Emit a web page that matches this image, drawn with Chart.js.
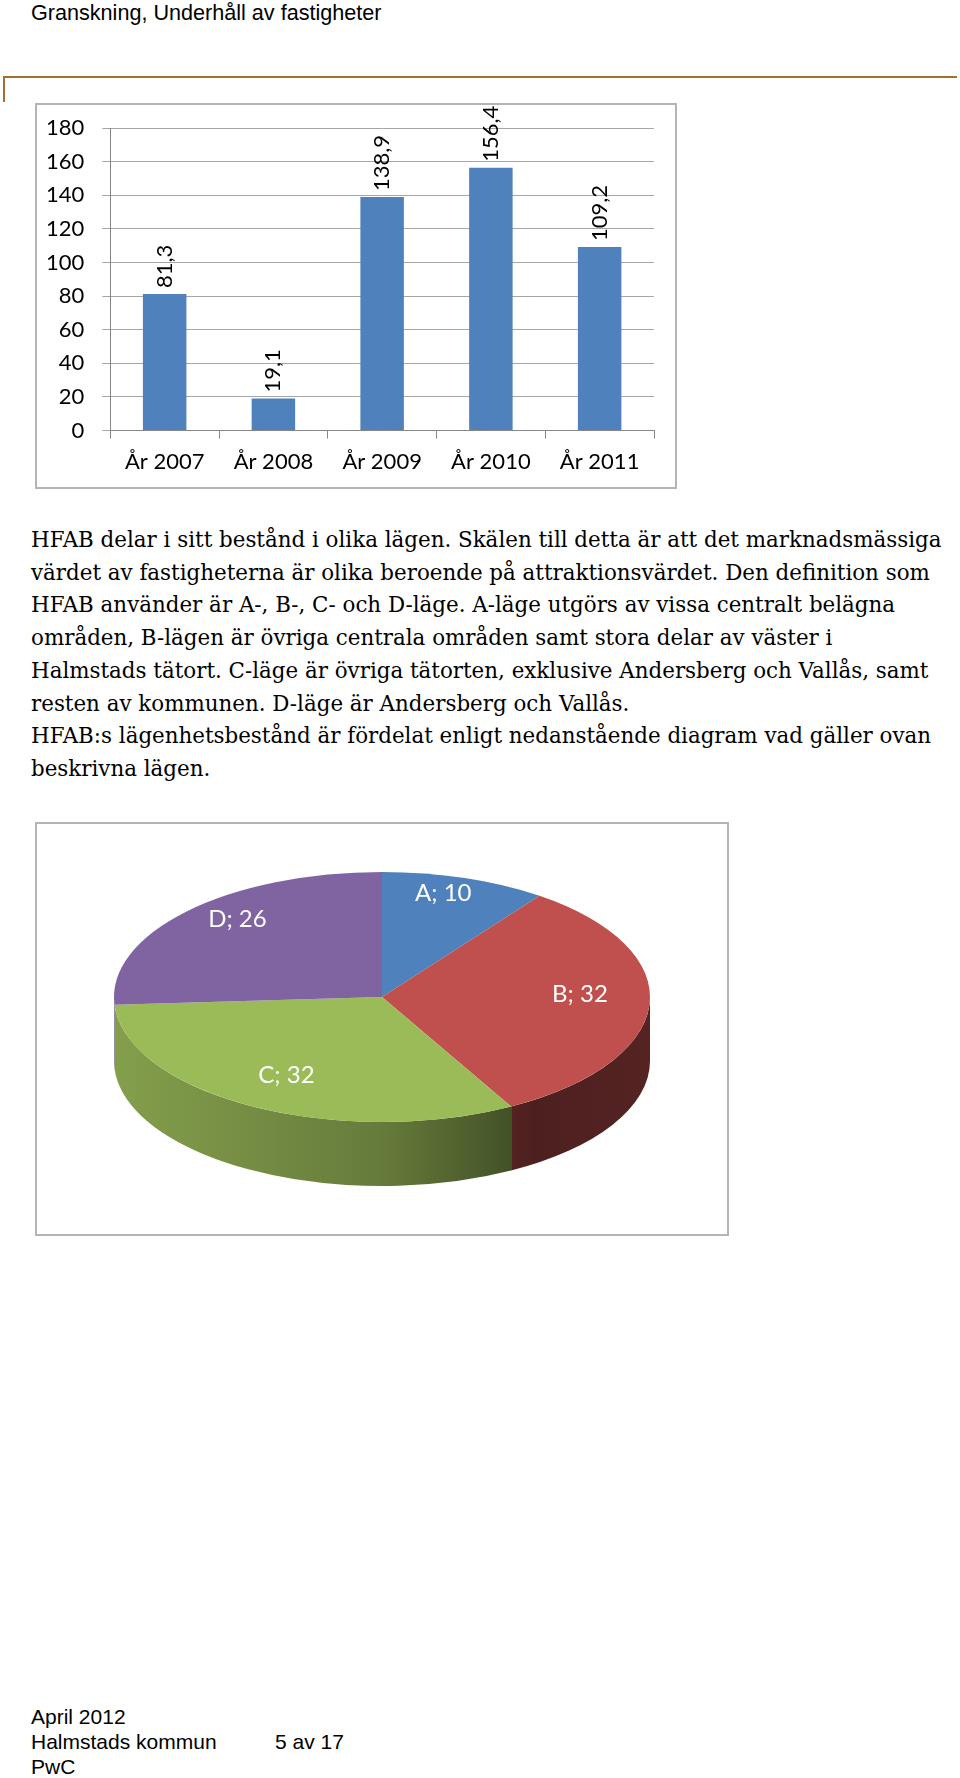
<!DOCTYPE html>
<html>
<head>
<meta charset="utf-8">
<script src="https://cdn.jsdelivr.net/npm/chart.js@4.4.1/dist/chart.umd.min.js"></script>
<style>
  body { margin:0; width:960px; height:1778px; background:#fff; position:relative; overflow:hidden;
         font-family:"Liberation Sans", Arial, sans-serif; color:#000; }
  #head { position:absolute; left:31px; top:0px; font-size:21.6px; line-height:25px; white-space:nowrap; }
  #ruleH { position:absolute; left:3px; top:76px; width:954px; border-top:2px solid #a0712f; }
  #ruleV { position:absolute; left:3px; top:76px; height:26px; border-left:2px solid #a0712f; }
  .box { position:absolute; border:2px solid #b4b4b4; box-sizing:border-box; }
  #barBox { left:35px; top:103px; width:642px; height:386px; }
  #pieBox { left:35px; top:822px; width:694px; height:414px; }
  .box canvas { display:block; }
  #txt { position:absolute; left:31px; top:524px; font-family:"DejaVu Serif", Georgia, serif;
         font-size:18px; line-height:32.7px; white-space:nowrap; }
  #foot { position:absolute; left:31px; top:1704px; font-size:21px; line-height:25px; white-space:nowrap; }
  #foot span { position:absolute; left:244px; }
</style>
</head>
<body>
<div id="head">Granskning, Underhåll av fastigheter</div>
<div id="ruleH"></div>
<div id="ruleV"></div>

<div class="box" id="barBox"><canvas id="bars"></canvas></div>

<div id="txt">
  <div id="line1">HFAB delar i sitt bestånd i olika lägen. Skälen till detta är att det marknadsmässiga</div>
  <div>värdet av fastigheterna är olika beroende på attraktionsvärdet. Den definition som</div>
  <div>HFAB använder är A-, B-, C- och D-läge. A-läge utgörs av vissa centralt belägna</div>
  <div>områden, B-lägen är övriga centrala områden samt stora delar av väster i</div>
  <div>Halmstads tätort. C-läge är övriga tätorten, exklusive Andersberg och Vallås, samt</div>
  <div>resten av kommunen. D-läge är Andersberg och Vallås.</div>
  <div>HFAB:s lägenhetsbestånd är fördelat enligt nedanstående diagram vad gäller ovan</div>
  <div>beskrivna lägen.</div>
</div>

<div class="box" id="pieBox"><canvas id="pie"></canvas></div>

<div id="foot">April 2012<br>Halmstads kommun<span>5 av 17</span><br>PwC</div>

<script>
// bar chart data
const years = ['År 2007', 'År 2008', 'År 2009', 'År 2010', 'År 2011'];
const values = [81.3, 19.1, 138.9, 156.4, 109.2];
const yMin = 0, yMax = 180, yStep = 20;

// pie chart data
const lagen = ['A', 'B', 'C', 'D'];
const andel = [10, 32, 32, 26];
const pieColors = ['#4f81bd', '#c0504d', '#9bbb59', '#8064a2'];

const chartFont = 'Lato, "Open Sans", sans-serif';

// fit paragraph width to the original line length
(function(){
  const t = document.getElementById('txt');
  const w = document.getElementById('line1').getBoundingClientRect().width;
  t.style.fontSize = (18 * 911 / w).toFixed(2) + 'px';
})();

// numbers standing on top of each bar, turned 90 deg
const barLabels = {
  id: 'barLabels',
  afterDatasetsDraw(chart) {
    const ctx = chart.ctx;
    chart.getDatasetMeta(0).data.forEach((bar, i) => {
      ctx.save();
      ctx.translate(bar.x, bar.y - 6);
      ctx.rotate(-Math.PI / 2);
      ctx.font = '22px ' + chartFont;
      ctx.fillStyle = '#000';
      ctx.textAlign = 'left';
      ctx.textBaseline = 'middle';
      ctx.fillText(values[i].toFixed(1).replace('.', ','), 0, 0);
      ctx.restore();
    });
  }
};

const barCanvas = document.getElementById('bars');
barCanvas.width = 638; barCanvas.height = 382;
new Chart(barCanvas, {
  type: 'bar',
  data: {
    labels: years,
    datasets: [{ data: values, backgroundColor: '#4f81bd', borderWidth: 0,
                 barPercentage: 0.4, categoryPercentage: 1 }]
  },
  options: {
    responsive: false,
    animation: false,
    layout: { padding: { left: -9, right: 21, top: 23, bottom: 2 } },
    plugins: { legend: { display: false }, tooltip: { enabled: false } },
    scales: {
      x: {
        grid: { drawOnChartArea: false, offset: true, tickLength: 8, color: '#868686' },
        border: { color: '#868686' },
        ticks: { color: '#000', font: { family: chartFont, size: 22 }, padding: 10 }
      },
      y: {
        min: yMin, max: yMax,
        grid: { color: '#a6a6a6', tickLength: 8 },
        border: { color: '#868686' },
        ticks: { stepSize: yStep, color: '#000', font: { family: chartFont, size: 22 }, padding: 18 },
        // the label gap should not push the plot down
        afterFit(scale) { scale.paddingTop = 13; scale.paddingBottom = 13; }
      }
    }
  },
  plugins: [barLabels]
});

// 3D look for the pie: squash the disc and draw the side wall
function shade(hex, k) {
  const n = parseInt(hex.slice(1), 16);
  const r = Math.round(((n >> 16) & 255) * k), g = Math.round(((n >> 8) & 255) * k), b = Math.round((n & 255) * k);
  return 'rgb(' + r + ',' + g + ',' + b + ')';
}

const pie3d = {
  id: 'pie3d',
  beforeDatasetsDraw(chart, args, opts) {
    const ctx = chart.ctx;
    const arcs = chart.getDatasetMeta(0).data;
    const { x, y, outerRadius } = arcs[0];
    const rx = outerRadius * opts.stretch, ry = rx * opts.tilt, d = opts.depth;
    chart.$ell = { x, y, rx, ry };
    arcs.forEach((arc, i) => {
      const g = ctx.createLinearGradient(x - rx, 0, x + rx, 0);
      g.addColorStop(0, shade(pieColors[i], 0.85));
      g.addColorStop(0.5, shade(pieColors[i], 0.66));
      g.addColorStop(0.78, shade(pieColors[i], 0.40));
      g.addColorStop(1, shade(pieColors[i], 0.44));
      for (let k = -1; k <= 1; k++) {
        const lo = Math.max(arc.startAngle, k * 2 * Math.PI);
        const hi = Math.min(arc.endAngle, k * 2 * Math.PI + Math.PI);
        if (hi <= lo) continue;
        ctx.beginPath();
        ctx.ellipse(x, y, rx, ry, 0, lo, hi);
        ctx.ellipse(x, y + d, rx, ry, 0, hi, lo, true);
        ctx.closePath();
        ctx.fillStyle = g;
        ctx.fill();
      }
    });
    ctx.save();
    ctx.translate(x, y);
    ctx.scale(rx / outerRadius, ry / outerRadius);
    ctx.translate(-x, -y);
  },
  afterDatasetsDraw(chart, args, opts) {
    const ctx = chart.ctx;
    ctx.restore();
    const e = chart.$ell;
    chart.getDatasetMeta(0).data.forEach((arc, i) => {
      const m = (arc.startAngle + arc.endAngle) / 2;
      const lx = e.x + e.rx * opts.labelX * Math.cos(m);
      const ly = e.y + opts.labelLift + e.ry * opts.labelY * Math.sin(m);
      ctx.save();
      ctx.font = '24px ' + chartFont;
      ctx.fillStyle = '#fff';
      ctx.textAlign = 'center';
      ctx.textBaseline = 'middle';
      ctx.fillText(lagen[i] + '; ' + andel[i], lx, ly);
      ctx.restore();
    });
  }
};

const pieCanvas = document.getElementById('pie');
pieCanvas.width = 690; pieCanvas.height = 410;
new Chart(pieCanvas, {
  type: 'pie',
  data: {
    labels: lagen,
    datasets: [{ data: andel, backgroundColor: pieColors, borderWidth: 0 }]
  },
  options: {
    responsive: false,
    animation: false,
    layout: { padding: { top: 0, bottom: 64 } },
    plugins: {
      legend: { display: false },
      tooltip: { enabled: false },
      pie3d: { stretch: 268 / 173, tilt: 125 / 268, depth: 64, labelX: 0.74, labelY: 0.8, labelLift: -9 }
    }
  },
  plugins: [pie3d]
});
</script>
</body>
</html>
